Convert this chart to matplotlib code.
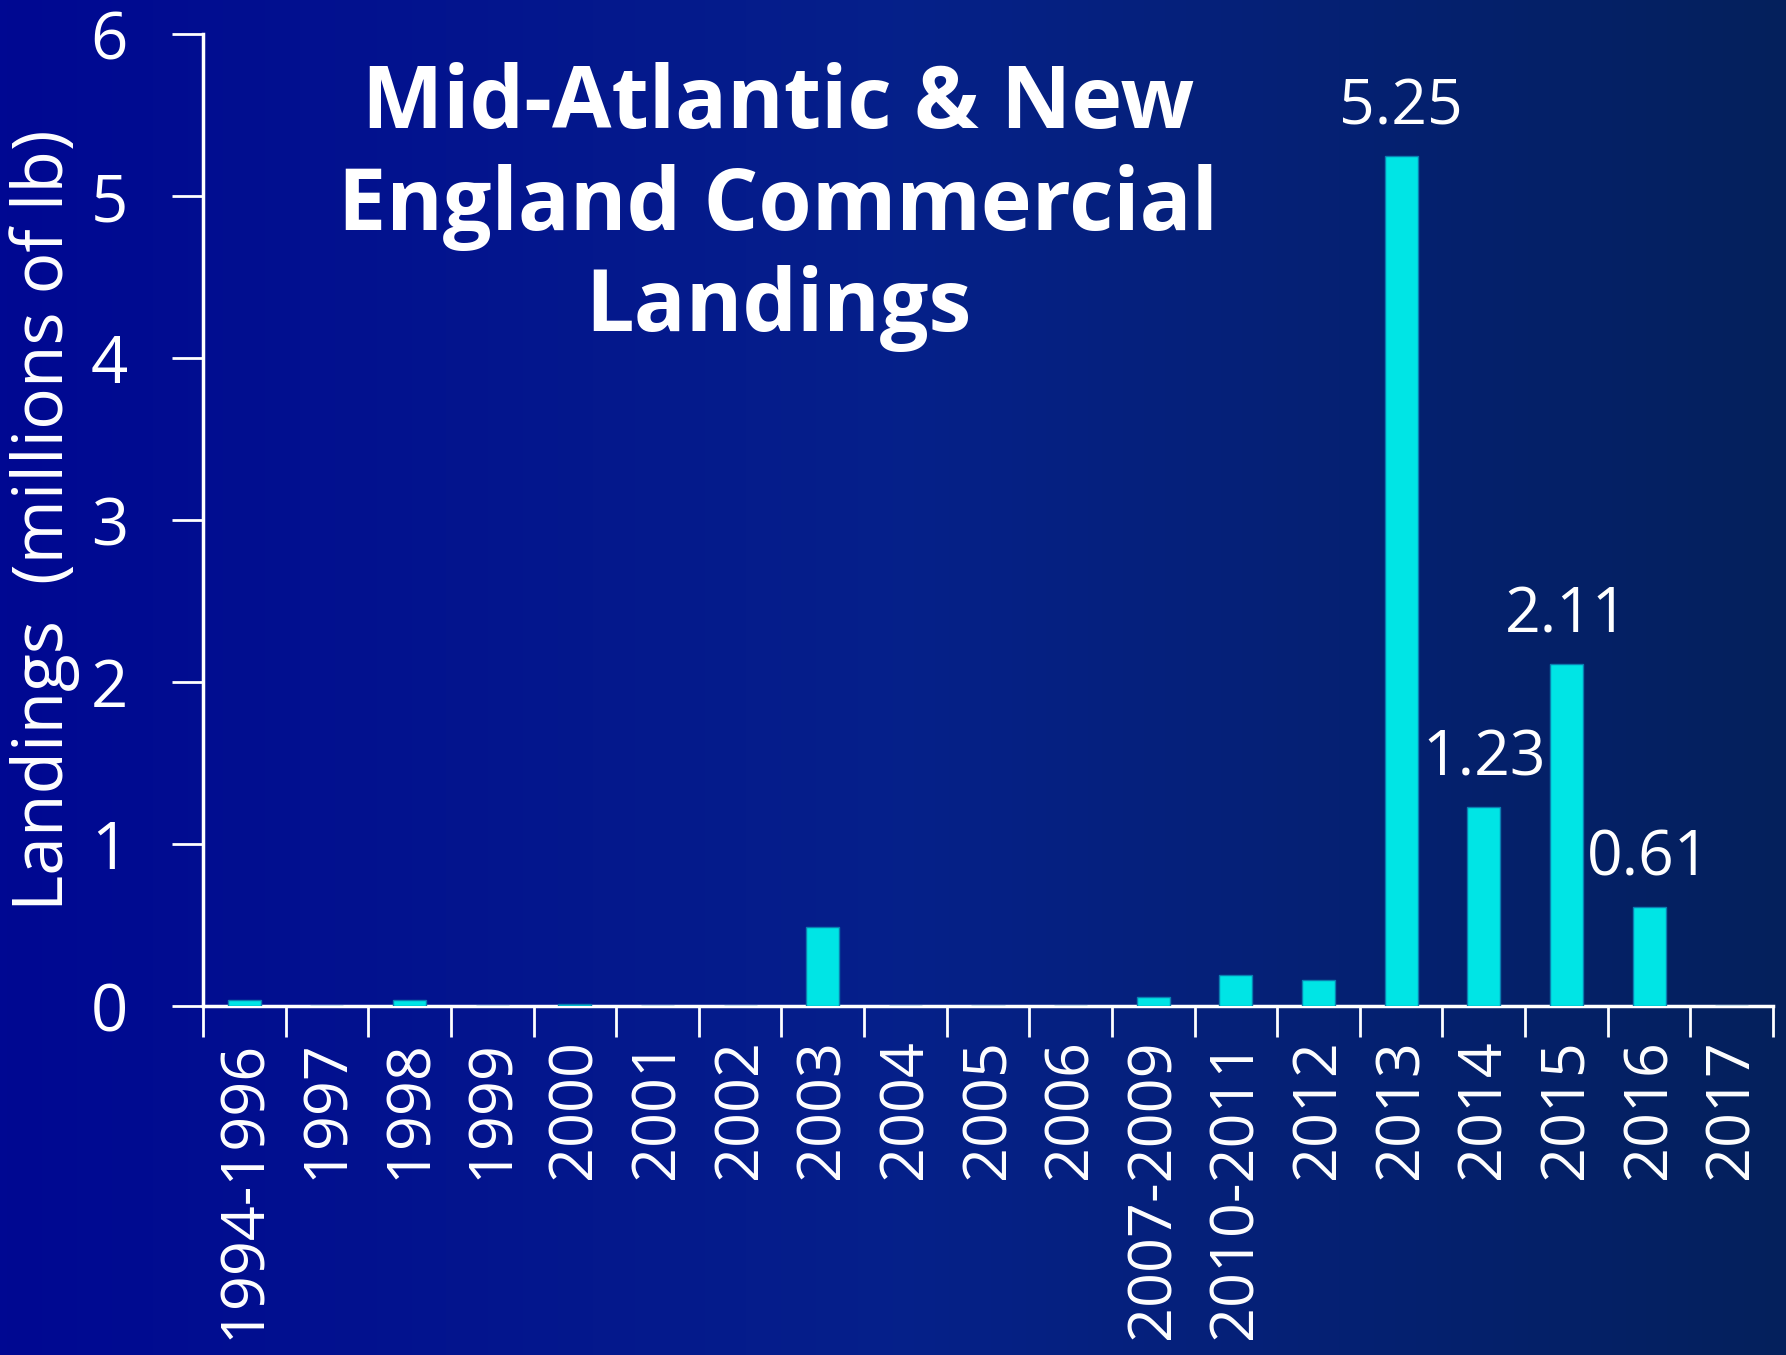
import numpy as np
import matplotlib
matplotlib.use("Agg")
import matplotlib.pyplot as plt
from matplotlib.colors import LinearSegmentedColormap

# Datos
categories = ['1994-1996', '1997', '1998', '1999', '2000', '2001', '2002', '2003',
              '2004', '2005', '2006', '2007-2009', '2010-2011', '2012', '2013',
              '2014', '2015', '2016', '2017']
landings = [0.04, 0, 0.035, 0, 0.01, 0, 0, 0.485, 0, 0, 0, 0.055, 0.19, 0.16,
            5.25, 1.23, 2.11, 0.61, 0]
labelled = {'2013': '5.25', '2014': '1.23', '2015': '2.11', '2016': '0.61'}
yticks = [0, 1, 2, 3, 4, 5, 6]

plt.rcParams['font.family'] = ['Open Sans', 'DejaVu Sans']

fig = plt.figure(figsize=(17.86, 13.55), dpi=100)

# Fondo degradado
bg = fig.add_axes([0, 0, 1, 1], zorder=0)
cmap = LinearSegmentedColormap.from_list('bg', ['#000892', '#06208a', '#04205c'])
grad = np.linspace(0, 1, 256).reshape(1, -1)
bg.imshow(grad, cmap=cmap, aspect='auto', extent=[0, 1, 0, 1])
bg.axis('off')

ax = fig.add_axes([203 / 1786, 1 - 1006 / 1355, 1570 / 1786, 972 / 1355], zorder=1)
ax.patch.set_alpha(0)

x = np.arange(len(categories))
ax.bar(x, landings, width=0.4, color='#00e5e5', edgecolor='#0a7fb0', linewidth=1, zorder=3)

for i, c in enumerate(categories):
    if c in labelled:
        ax.text(i, landings[i] + 0.1, labelled[c], ha='center', va='bottom',
                color='white', fontsize=45)

ax.set_xlim(-0.5, len(categories) - 0.5)
ax.set_ylim(0, 6)
ax.set_yticks(yticks)
ax.set_yticklabels([str(v) for v in yticks], fontsize=47, color='white')

ax.set_xticks(x)
ax.set_xticklabels(categories, rotation=90, fontsize=44, color='white')
ax.tick_params(axis='x', length=0, pad=24)
ax.set_xticks(np.arange(len(categories) + 1) - 0.5, minor=True)
ax.tick_params(axis='x', which='minor', length=22, width=2, color='white', direction='out')
ax.tick_params(axis='y', length=22, width=2, color='white', direction='out', pad=32)

for s in ['top', 'right']:
    ax.spines[s].set_visible(False)
for s in ['left', 'bottom']:
    ax.spines[s].set_color('white')
    ax.spines[s].set_linewidth(2.5)

ax.set_ylabel('Landings  (millions of lb)', fontsize=50, color='white', labelpad=8)

ax.text(6.46, 4.93, 'Mid-Atlantic & New\nEngland Commercial\nLandings', ha='center',
        va='center', fontsize=62, fontweight='bold', color='white', linespacing=1.22)

fig.savefig('out.png', dpi=100)
print("Plot guardado como out.png")
